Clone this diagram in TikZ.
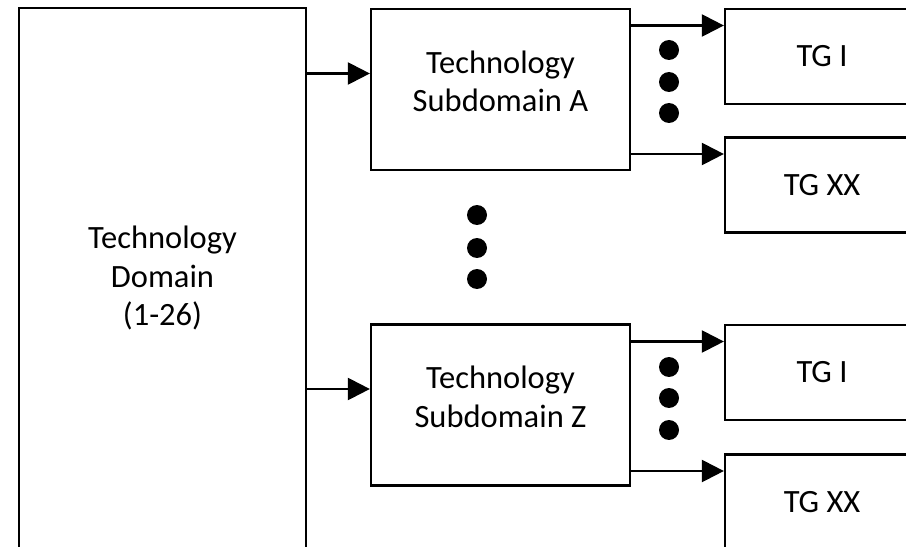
\documentclass[tikz,border=0pt]{standalone}
\usepackage{fontspec}
\setmainfont{Carlito}
\usepackage{tikz}
\usetikzlibrary{arrows.meta}

\tikzset{
  box/.style={draw, line width=1.3pt, inner sep=0pt, align=center,
    font=\fontsize{18.5pt}{22pt}\selectfont},
  domainbox/.style={box, minimum width=5.74cm, minimum height=10.8cm},
  subbox/.style={box, minimum width=5.18cm, minimum height=3.22cm},
  tgbox/.style={box, minimum width=3.88cm, minimum height=1.9cm},
  boxtext/.style={align=center, inner sep=0pt, font=\fontsize{18.5pt}{22pt}\selectfont},
  arr/.style={line width=1.3pt, -{Triangle[length=0.44cm, width=0.44cm]}}
}

\begin{document}
\begin{tikzpicture}[x=0.02cm, y=-0.02cm]
        \useasboundingbox (0,0) rectangle (906,547);
        \clip (0,0) rectangle (906,547);
        % Boxes
        \node[domainbox] (domain) at (162.5,278) {Technology\\Domain\\(1-26)};
        \node[subbox] (subA) at (500.5,89.5) {};
        \node[subbox] (subZ) at (500.5,405) {};
        \node[boxtext] (subAtext) at ([yshift=0.16cm]subA.center) {Technology\\Subdomain A};
        \node[boxtext] (subZtext) at ([yshift=0.16cm]subZ.center) {Technology\\Subdomain Z};
        \node[tgbox] (tgA1) at (822,56.5) {TG I};
        \node[tgbox] (tgAx) at (822,185) {TG XX};
        \node[tgbox] (tgZ1) at (822,372.5) {TG I};
        \node[tgbox] (tgZx) at (822,502) {TG XX};
        % Arrows
        \foreach \t in {subA,subZ} {
          \coordinate (in-\t) at ([yshift=0.32cm]\t.west);
          \draw[arr] (domain.east |- in-\t) -- (in-\t);
        }
        \foreach \s/\t in {subA/tgA1,subA/tgAx,subZ/tgZ1,subZ/tgZx} {
          \coordinate (in-\t) at ([yshift=0.62cm]\t.west);
          \draw[arr] (\s.east |- in-\t) -- (in-\t);
        }
        % Dots
        \foreach \y in {50,82,113,367,398,430}
          \fill (669,\y) circle (0.2cm);
        \foreach \y in {215,248,279}
          \fill (477,\y) circle (0.2cm);
    \end{tikzpicture}
\end{document}
